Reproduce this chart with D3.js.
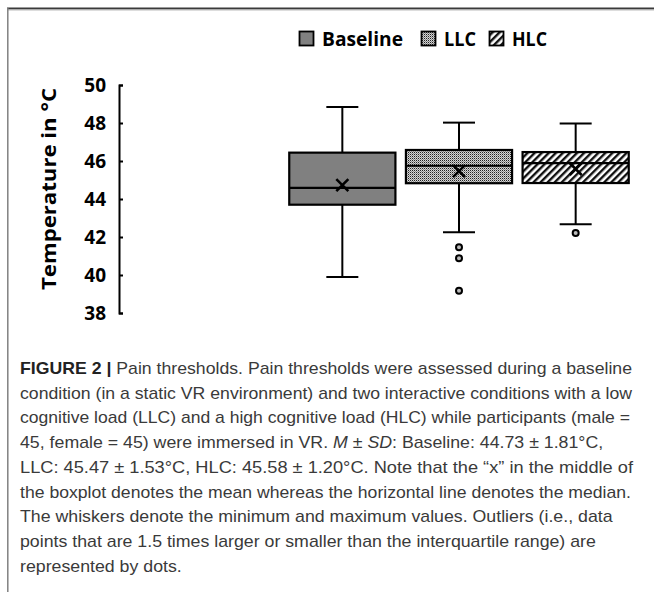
<!DOCTYPE html>
<html>
<head>
<meta charset="utf-8">
<script src="https://cdn.jsdelivr.net/npm/d3@7"></script>
<style>
  html, body { margin: 0; padding: 0; background: #fff; }
  svg { display: block; }
</style>
</head>
<body>
<svg id="chart" width="654" height="592"></svg>
<script>
// ---- data ----
const categories = ["Baseline", "LLC", "HLC"];
const whiskerMin = [39.89, 42.25, 42.67];
const q1 = [43.70, 44.83, 44.84];
const median = [44.59, 45.75, 45.89];
const q3 = [46.44, 46.58, 46.47];
const whiskerMax = [48.84, 48.02, 47.98];
const means = [44.73, 45.47, 45.58];
const outliers = [[], [41.46, 40.88, 39.17], [42.21]];
const yTicks = [38, 40, 42, 44, 46, 48, 50];
const legendLabels = ["Baseline", "LLC", "HLC"];

const captionLines = [
  [{t: "FIGURE 2 |", b: true}, {t: " Pain thresholds. Pain thresholds were assessed during a baseline"}],
  [{t: "condition (in a static VR environment) and two interactive conditions with a low"}],
  [{t: "cognitive load (LLC) and a high cognitive load (HLC) while participants (male ="}],
  [{t: "45, female = 45) were immersed in VR. "}, {t: "M", i: true}, {t: " \u00B1 "}, {t: "SD", i: true}, {t: ": Baseline: 44.73 \u00B1 1.81\u00B0C,"}],
  [{t: "LLC: 45.47 \u00B1 1.53\u00B0C, HLC: 45.58 \u00B1 1.20\u00B0C. Note that the \u201Cx\u201D in the middle of"}],
  [{t: "the boxplot denotes the mean whereas the horizontal line denotes the median."}],
  [{t: "The whiskers denote the minimum and maximum values. Outliers (i.e., data"}],
  [{t: "points that are 1.5 times larger or smaller than the interquartile range) are"}],
  [{t: "represented by dots."}]
];
// right end of the full-width lines (null = ragged line, natural width)
const captionEnds = [632, 632, 630, null, 633, 631, null, null, null];

// ---- drawing ----
const svg = d3.select("#chart");
const defs = svg.append("defs");

const pDot = defs.append("pattern").attr("id", "dots")
  .attr("patternUnits", "userSpaceOnUse").attr("width", 2).attr("height", 2);
pDot.append("rect").attr("width", 2).attr("height", 2).attr("fill", "#d4d4d4");
pDot.append("rect").attr("width", 1).attr("height", 1).attr("fill", "#222");
pDot.append("rect").attr("x", 1).attr("y", 1).attr("width", 1).attr("height", 1).attr("fill", "#8a8a8a");

const pHatch = defs.append("pattern").attr("id", "hatch")
  .attr("patternUnits", "userSpaceOnUse").attr("width", 5).attr("height", 5)
  .attr("patternTransform", "rotate(45)");
pHatch.append("rect").attr("width", 5).attr("height", 5).attr("fill", "#fff");
pHatch.append("rect").attr("width", 2.4).attr("height", 5).attr("fill", "#111");

const fills = ["#808080", "url(#dots)", "url(#hatch)"];

// frame
svg.append("line").attr("x1", 7).attr("x2", 654).attr("y1", 8.5).attr("y2", 8.5)
  .attr("stroke", "#3a3a3a").attr("stroke-width", 2);
svg.append("line").attr("x1", 7).attr("x2", 654).attr("y1", 10).attr("y2", 10)
  .attr("stroke", "#bbb").attr("stroke-width", 1);
svg.append("line").attr("x1", 7.8).attr("x2", 7.8).attr("y1", 8).attr("y2", 592)
  .attr("stroke", "#808080").attr("stroke-width", 1.5);

// scales
const y = d3.scaleLinear().domain([38, 50]).range([313, 85]);
const x = d3.scaleBand().domain(categories).range([284, 634])
  .paddingInner(0.09).paddingOuter(0.045);

const fontBold = "'Open Sans', 'DejaVu Sans', sans-serif";

// y axis
const axisG = svg.append("g").attr("transform", "translate(119,0)")
  .call(d3.axisRight(y).tickValues(yTicks).tickSize(4).tickSizeOuter(4).tickFormat(""));
axisG.selectAll("path, line").attr("stroke", "#000").attr("stroke-width", 2);
axisG.selectAll("text").remove();

svg.append("g").selectAll("text").data(yTicks).join("text")
  .attr("x", 106).attr("y", d => y(d)).attr("dy", "0.36em")
  .attr("text-anchor", "end")
  .attr("font-family", fontBold).attr("font-weight", "bold").attr("font-size", 19)
  .attr("fill", "#000").text(d => d);

svg.append("text")
  .attr("transform", "translate(56,189) rotate(-90)")
  .attr("text-anchor", "middle")
  .attr("font-family", fontBold).attr("font-weight", "bold").attr("font-size", 20)
  .attr("textLength", 202).attr("lengthAdjust", "spacingAndGlyphs")
  .attr("fill", "#000").text("Temperature in \u00B0C");

// boxes
const capW = 32;
const g = svg.append("g");
categories.forEach((c, i) => {
  const cx = x(c) + x.bandwidth() / 2;
  g.append("line").attr("x1", cx).attr("x2", cx).attr("y1", y(whiskerMax[i])).attr("y2", y(q3[i]))
    .attr("stroke", "#000").attr("stroke-width", 2);
  g.append("line").attr("x1", cx).attr("x2", cx).attr("y1", y(q1[i])).attr("y2", y(whiskerMin[i]))
    .attr("stroke", "#000").attr("stroke-width", 2);
  [whiskerMax[i], whiskerMin[i]].forEach(v => {
    g.append("line").attr("x1", cx - capW / 2).attr("x2", cx + capW / 2)
      .attr("y1", y(v)).attr("y2", y(v)).attr("stroke", "#000").attr("stroke-width", 2);
  });
  g.append("rect").attr("x", x(c)).attr("width", x.bandwidth())
    .attr("y", y(q3[i])).attr("height", y(q1[i]) - y(q3[i]))
    .attr("fill", fills[i]).attr("stroke", "#000").attr("stroke-width", 2.2);
  g.append("line").attr("x1", x(c)).attr("x2", x(c) + x.bandwidth())
    .attr("y1", y(median[i])).attr("y2", y(median[i]))
    .attr("stroke", "#000").attr("stroke-width", 2.2);
  const my = y(means[i]), s = 6;
  g.append("path").attr("d", `M${cx - s},${my - s}L${cx + s},${my + s}M${cx - s},${my + s}L${cx + s},${my - s}`)
    .attr("stroke", "#000").attr("stroke-width", 2.6).attr("fill", "none");
  outliers[i].forEach(v => {
    g.append("circle").attr("cx", cx).attr("cy", y(v)).attr("r", 3)
      .attr("fill", "#bbb").attr("stroke", "#000").attr("stroke-width", 2);
  });
});

// legend
const legendX = [299.5, 421.5, 489.5];
const legendW = [81, 32, 35];
const lg = svg.append("g");
legendLabels.forEach((l, i) => {
  lg.append("rect").attr("x", legendX[i]).attr("y", 31.5).attr("width", 14).attr("height", 14)
    .attr("fill", fills[i]).attr("stroke", "#000").attr("stroke-width", 1.8);
  lg.append("text").attr("x", legendX[i] + 22.5).attr("y", 46)
    .attr("font-family", fontBold).attr("font-weight", "bold").attr("font-size", 19.5)
    .attr("textLength", legendW[i]).attr("lengthAdjust", "spacingAndGlyphs")
    .attr("fill", "#000").text(l);
});

// caption
const cap = svg.append("g");
const texts = captionLines.map((line, i) => {
  const t = cap.append("text").attr("x", 20).attr("y", 374 + i * 24.7)
    .attr("font-family", "'Liberation Sans', Arial, sans-serif").attr("font-size", 17)
    .attr("fill", "#3a3a3a");
  line.forEach(seg => {
    const ts = t.append("tspan").text(seg.t);
    if (seg.b) ts.attr("font-weight", "bold").attr("fill", "#222");
    if (seg.i) ts.attr("font-style", "italic");
  });
  return t;
});
const natural = texts.map(t => t.node().getComputedTextLength());
const ratios = captionEnds.map((e, i) => e == null ? null : (e - 20) / natural[i]).filter(r => r != null);
const avgRatio = d3.mean(ratios);
texts.forEach((t, i) => {
  const len = captionEnds[i] == null ? natural[i] * avgRatio : captionEnds[i] - 20;
  t.attr("textLength", len).attr("lengthAdjust", "spacingAndGlyphs");
});
</script>
</body>
</html>
